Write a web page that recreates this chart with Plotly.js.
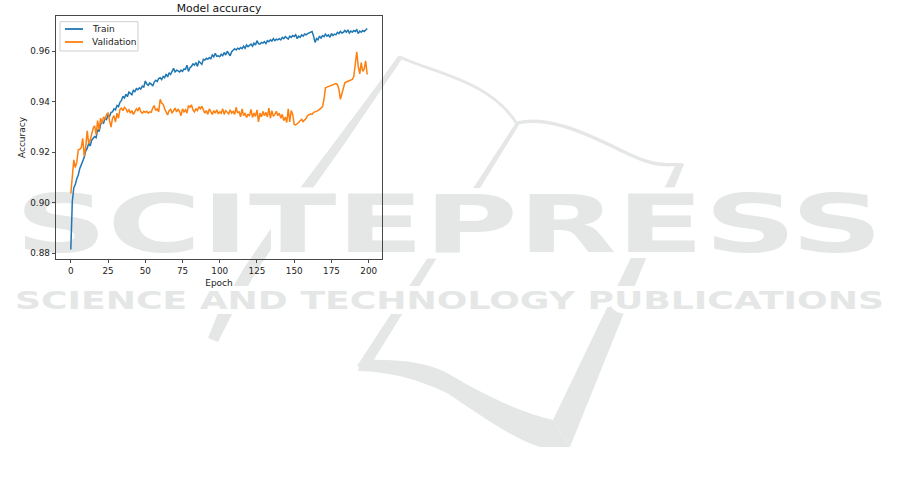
<!DOCTYPE html>
<html>
<head>
<meta charset="utf-8">
<script src="https://cdn.plot.ly/plotly-3.0.1.min.js"></script>
<style>
  html, body { margin: 0; padding: 0; background: #ffffff; }
  #wm { position: absolute; left: 0; top: 0; z-index: 0; }
  #chart { position: absolute; left: 0; top: 0; z-index: 1; width: 901px; height: 484px; }
</style>
</head>
<body>
<svg id="wm" width="901" height="484" xmlns="http://www.w3.org/2000/svg">
  <g fill="none" stroke="#e5e7e6" stroke-linecap="round" stroke-linejoin="round">
    <path d="M400,57 C430,72 490,80 517,124" stroke-width="3"/>
    <path d="M517,123 C545,116 580,130 620,150 S665,163 682,165" stroke-width="3.5"/>
  </g>
  <g fill="#e5e7e6">
    <path d="M675,166 L684,164 L570,447 L553,420 Z"/>
    <path d="M553,420 C520,412 490,398 447,373 C425,362 400,359 362,360 L358,371 C390,372 415,378 447,393 C480,415 510,437 540,447 L570,447 Z"/>
    <path d="M515,124 L519,125 L367,371 L357,366 Z"/>
    <path d="M398,56 L378,84 L337,139 L285,208 L244,268 L218,313 L208,338 L218,342 L230,318 L256,272 L296,212 L345,143 L383,87 L402,59 Z"/>
  </g>
  <g font-family="DejaVu Sans" fill="#e5e7e6" stroke="#ffffff" paint-order="stroke">
    <text x="15" y="252" textLength="868" lengthAdjust="spacingAndGlyphs" font-size="80" font-weight="bold" stroke-width="12">SCITEPRESS</text>
    <text x="15" y="309" textLength="869" lengthAdjust="spacingAndGlyphs" font-size="25.5" font-weight="600" stroke-width="10">SCIENCE AND TECHNOLOGY PUBLICATIONS</text>
  </g>
</svg>
<div id="chart"></div>
<script>
// ---- data ----
const epochs = Array.from({length: 200}, (_, i) => i);

const trainAcc = [
  0.8815, 0.9005, 0.9060, 0.9072, 0.9095, 0.9110, 0.9135, 0.9150, 0.9170, 0.9180,
  0.9205, 0.9215, 0.9235, 0.9225, 0.9248, 0.9255, 0.9262, 0.9258, 0.9290, 0.9282,
  0.9310, 0.9320, 0.9315, 0.9335, 0.9330, 0.9348, 0.9342, 0.9358, 0.9360, 0.9372,
  0.9368, 0.9385, 0.9380, 0.9398, 0.9405, 0.9422, 0.9415, 0.9430, 0.9420, 0.9438,
  0.9432, 0.9428, 0.9445, 0.9440, 0.9452, 0.9448, 0.9455, 0.9450, 0.9462, 0.9458,
  0.9482, 0.9470, 0.9465, 0.9475, 0.9470, 0.9462, 0.9478, 0.9485, 0.9480, 0.9492,
  0.9495, 0.9488, 0.9500, 0.9495, 0.9510, 0.9498, 0.9515, 0.9508, 0.9520, 0.9532,
  0.9518, 0.9525, 0.9522, 0.9518, 0.9525, 0.9520, 0.9530, 0.9528, 0.9545, 0.9520,
  0.9535, 0.9540, 0.9550, 0.9545, 0.9555, 0.9540, 0.9560, 0.9555, 0.9548, 0.9568,
  0.9565, 0.9572, 0.9568, 0.9575, 0.9570, 0.9585, 0.9578, 0.9592, 0.9580, 0.9582,
  0.9578, 0.9588, 0.9582, 0.9595, 0.9585, 0.9600, 0.9592, 0.9582, 0.9598, 0.9605,
  0.9610, 0.9605, 0.9612, 0.9608, 0.9615, 0.9610, 0.9620, 0.9612, 0.9625, 0.9618,
  0.9622, 0.9628, 0.9620, 0.9632, 0.9625, 0.9642, 0.9630, 0.9628, 0.9635, 0.9632,
  0.9638, 0.9630, 0.9642, 0.9638, 0.9645, 0.9640, 0.9650, 0.9642, 0.9648, 0.9645,
  0.9650, 0.9645, 0.9655, 0.9650, 0.9658, 0.9652, 0.9648, 0.9660, 0.9655, 0.9662,
  0.9658, 0.9665, 0.9650, 0.9660, 0.9655, 0.9665, 0.9660, 0.9668, 0.9665, 0.9670,
  0.9672, 0.9675, 0.9678, 0.9660, 0.9635, 0.9650, 0.9645, 0.9660, 0.9652, 0.9662,
  0.9658, 0.9668, 0.9660, 0.9665, 0.9655, 0.9670, 0.9662, 0.9668, 0.9665, 0.9675,
  0.9670, 0.9678, 0.9672, 0.9675, 0.9682, 0.9675, 0.9685, 0.9672, 0.9680, 0.9675,
  0.9682, 0.9678, 0.9685, 0.9670, 0.9680, 0.9675, 0.9682, 0.9678, 0.9685, 0.9690
];

const valAcc = [
  0.9037, 0.9100, 0.9170, 0.9140, 0.9160, 0.9210, 0.9212, 0.9218, 0.9255, 0.9185,
  0.9220, 0.9285, 0.9235, 0.9248, 0.9275, 0.9295, 0.9305, 0.9270, 0.9325, 0.9290,
  0.9335, 0.9315, 0.9340, 0.9330, 0.9350, 0.9355, 0.9325, 0.9300, 0.9335, 0.9345,
  0.9320, 0.9355, 0.9335, 0.9370, 0.9375, 0.9365, 0.9378, 0.9372, 0.9360, 0.9368,
  0.9355, 0.9365, 0.9350, 0.9362, 0.9372, 0.9365, 0.9378, 0.9360, 0.9355, 0.9362,
  0.9358, 0.9362, 0.9355, 0.9360, 0.9358, 0.9375, 0.9385, 0.9365, 0.9372, 0.9360,
  0.9410, 0.9395, 0.9390, 0.9372, 0.9362, 0.9348, 0.9365, 0.9370, 0.9355, 0.9368,
  0.9375, 0.9360, 0.9370, 0.9362, 0.9345, 0.9372, 0.9360, 0.9368, 0.9355, 0.9385,
  0.9378, 0.9388, 0.9368, 0.9360, 0.9372, 0.9365, 0.9380, 0.9372, 0.9382, 0.9368,
  0.9355, 0.9365, 0.9350, 0.9372, 0.9358, 0.9350, 0.9365, 0.9355, 0.9368, 0.9352,
  0.9360, 0.9355, 0.9372, 0.9350, 0.9365, 0.9358, 0.9352, 0.9368, 0.9355, 0.9362,
  0.9350, 0.9378, 0.9355, 0.9362, 0.9340, 0.9372, 0.9345, 0.9355, 0.9338, 0.9350,
  0.9345, 0.9370, 0.9338, 0.9355, 0.9342, 0.9368, 0.9320, 0.9355, 0.9340, 0.9362,
  0.9345, 0.9358, 0.9340, 0.9375, 0.9335, 0.9365, 0.9342, 0.9350, 0.9362, 0.9345,
  0.9355, 0.9335, 0.9350, 0.9325, 0.9340, 0.9318, 0.9372, 0.9320, 0.9365, 0.9350,
  0.9310, 0.9308, 0.9312, 0.9318, 0.9325, 0.9330, 0.9322, 0.9328, 0.9335, 0.9345,
  0.9348, 0.9352, 0.9350, 0.9358, 0.9360, 0.9362, 0.9365, 0.9370, 0.9375, 0.9380,
  0.9410, 0.9455, 0.9458, 0.9460, 0.9462, 0.9465, 0.9468, 0.9470, 0.9472, 0.9468,
  0.9450, 0.9410, 0.9430, 0.9455, 0.9475, 0.9478, 0.9480, 0.9482, 0.9485, 0.9488,
  0.9500, 0.9555, 0.9598, 0.9540, 0.9510, 0.9555, 0.9520, 0.9530, 0.9562, 0.9508
];

const seriesNames = ['Train', 'Validation'];
const seriesColors = ['#1f77b4', '#ff7f0e'];
const xTickVals = [0, 25, 50, 75, 100, 125, 150, 175, 200];
const yTickVals = [0.88, 0.90, 0.92, 0.94, 0.96];
const yTickText = ['0.88', '0.90', '0.92', '0.94', '0.96'];

const traces = [
  { x: epochs, y: trainAcc, type: 'scatter', mode: 'lines', name: seriesNames[0],
    line: { color: seriesColors[0], width: 1.5 } },
  { x: epochs, y: valAcc, type: 'scatter', mode: 'lines', name: seriesNames[1],
    line: { color: seriesColors[1], width: 1.5 } }
];

// compact matplotlib-style legend (upper left), in paper coordinates
const legendShapes = [
  { type: 'rect', xref: 'paper', yref: 'paper', layer: 'above',
    x0: 0.0123, x1: 0.2515, y0: 0.856, y1: 0.9765,
    fillcolor: 'rgba(255,255,255,0.85)', line: { color: '#cfcfcf', width: 1 } }
];
const legendAnnotations = [];
const legendRows = [0.9465, 0.893];
seriesNames.forEach((name, i) => {
  legendShapes.push({ type: 'line', xref: 'paper', yref: 'paper', layer: 'above',
    x0: 0.0276, x1: 0.0828, y0: legendRows[i], y1: legendRows[i],
    line: { color: seriesColors[i], width: 1.8 } });
  legendAnnotations.push({ xref: 'paper', yref: 'paper', x: 0.1043, y: legendRows[i],
    xanchor: 'left', yanchor: 'middle', text: name, showarrow: false,
    font: { size: 9, color: '#222222' } });
});

const layout = {
  width: 901, height: 484,
  margin: { l: 56, r: 519, t: 16, b: 225, pad: 0 },
  paper_bgcolor: 'rgba(0,0,0,0)',
  plot_bgcolor: 'rgba(0,0,0,0)',
  font: { family: 'DejaVu Sans, sans-serif', size: 9, color: '#222222' },
  showlegend: false,
  title: { text: 'Model accuracy', font: { size: 10.8, color: '#111111' },
           x: 0.5, xref: 'paper', xanchor: 'center',
           y: 1 - 8.5 / 484, yref: 'container', yanchor: 'middle' },
  xaxis: {
    range: [-9.95, 208.95], tickmode: 'array', tickvals: xTickVals,
    ticks: 'outside', ticklen: 3.5, tickwidth: 0.8, tickcolor: '#222222',
    showline: true, linecolor: '#333333', linewidth: 0.9, mirror: true,
    showgrid: false, zeroline: false, automargin: false,
    tickfont: { size: 8.8 },
    title: { text: 'Epoch', font: { size: 9 }, standoff: 4 }
  },
  yaxis: {
    range: [0.87775, 0.97395], tickmode: 'array', tickvals: yTickVals, ticktext: yTickText,
    ticks: 'outside', ticklen: 3.5, tickwidth: 0.8, tickcolor: '#222222',
    showline: true, linecolor: '#333333', linewidth: 0.9, mirror: true,
    showgrid: false, zeroline: false, automargin: false,
    tickfont: { size: 8.8 },
    title: { text: 'Accuracy', font: { size: 9 }, standoff: 3 }
  },
  shapes: legendShapes,
  annotations: legendAnnotations
};

Plotly.newPlot('chart', traces, layout, { displayModeBar: false, staticPlot: true });
</script>
</body>
</html>
